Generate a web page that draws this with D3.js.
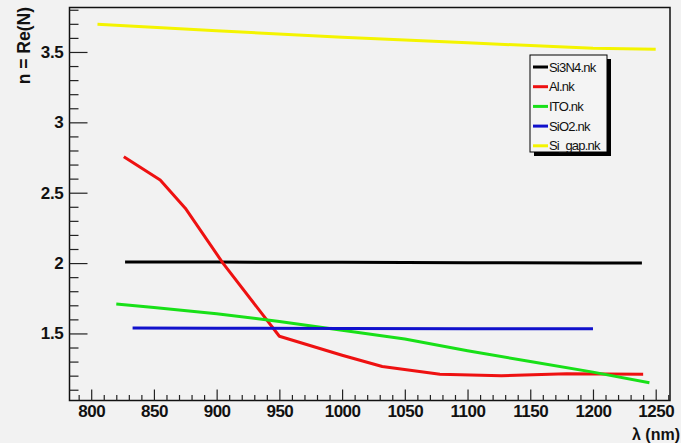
<!DOCTYPE html>
<html><head><meta charset="utf-8">
<script src="https://cdn.jsdelivr.net/npm/d3@7"></script>
<style>
html,body{margin:0;padding:0;background:#f2f2f2;}
svg{display:block;}
text{font-family:"Liberation Sans",Arial,Helvetica,sans-serif;}
</style></head>
<body>
<svg id="c" width="681" height="443"></svg>
<script>
// ---- data ----
const seriesNames = ["Si3N4.nk", "Al.nk", "ITO.nk", "SiO2.nk", "Si_gap.nk"];
const seriesColors = ["#000000", "#ee1111", "#18e018", "#1111cc", "#f4f400"];

const wlSi3N4 = [827, 900, 1000, 1100, 1200, 1239];
const nSi3N4  = [2.008, 2.007, 2.005, 2.003, 2.001, 2.001];

const wlAl = [826, 855, 875, 905, 950, 1000, 1032, 1078, 1127, 1179, 1240];
const nAl  = [2.755, 2.59, 2.39, 2.0, 1.48, 1.345, 1.265, 1.21, 1.2, 1.213, 1.21];

const wlITO = [820, 850, 900, 950, 1000, 1050, 1100, 1150, 1200, 1245];
const nITO  = [1.71, 1.684, 1.64, 1.585, 1.522, 1.46, 1.377, 1.30, 1.225, 1.15];

const wlSiO2 = [833, 900, 1000, 1100, 1200];
const nSiO2  = [1.538, 1.537, 1.535, 1.534, 1.534];

const wlSiGap = [805, 900, 1000, 1100, 1200, 1250];
const nSiGap  = [3.697, 3.65, 3.605, 3.565, 3.527, 3.519];

const xTicks = [800, 850, 900, 950, 1000, 1050, 1100, 1150, 1200, 1250];
const yTicks = [1.5, 2, 2.5, 3, 3.5];
const xTitle = "λ (nm)";
const yTitle = "n = Re(N)";

// ---- layout ----
const svg = d3.select("#c");
const L = 69.5, R = 670, T = 7.5, B = 400.5;
const x = d3.scaleLinear().domain([782.7, 1261.4]).range([L, R]);
const y = d3.scaleLinear().domain([1.0235, 3.816]).range([B, T]);

svg.append("rect").attr("width",681).attr("height",443).attr("fill","#f2f2f2");

// frame
svg.append("rect").attr("x",L).attr("y",T).attr("width",R-L).attr("height",B-T)
  .attr("fill","none").attr("stroke","#111").attr("stroke-width",1.5);

// minor ticks
const xMinor = d3.range(790, 1261, 10).filter(v => v % 50 !== 0);
const yMinor = d3.range(11, 39).map(v => v/10).filter(v => Math.abs(v*2 - Math.round(v*2)) > 1e-6);

svg.append("g").attr("transform",`translate(0,${B})`)
  .call(d3.axisBottom(x).tickValues(xMinor).tickSize(-5.5).tickFormat(""))
  .call(g => { g.select(".domain").remove(); g.selectAll("line").attr("stroke","#222").attr("stroke-width",1.2); });
svg.append("g").attr("transform",`translate(${L},0)`)
  .call(d3.axisLeft(y).tickValues(yMinor).tickSize(-9).tickFormat(""))
  .call(g => { g.select(".domain").remove(); g.selectAll("line").attr("stroke","#222").attr("stroke-width",1.2); });

// major axes
const xAxis = svg.append("g").attr("transform",`translate(0,${B})`)
  .call(d3.axisBottom(x).tickValues(xTicks).tickSize(-11).tickPadding(4).tickFormat(d3.format("d")));
xAxis.select(".domain").remove();
xAxis.selectAll("line").attr("stroke","#222").attr("stroke-width",1.2);
xAxis.selectAll("text").attr("font-size",17).attr("font-weight","bold").attr("fill","#111")
  .attr("font-family","'Liberation Sans',Arial,sans-serif").attr("letter-spacing",-0.5);

const yAxis = svg.append("g").attr("transform",`translate(${L},0)`)
  .call(d3.axisLeft(y).tickValues(yTicks).tickSize(-18).tickPadding(6).tickFormat(d => String(d)));
yAxis.select(".domain").remove();
yAxis.selectAll("line").attr("stroke","#222").attr("stroke-width",1.2);
yAxis.selectAll("text").attr("font-size",17).attr("font-weight","bold").attr("fill","#111")
  .attr("font-family","'Liberation Sans',Arial,sans-serif").attr("letter-spacing",-0.3);

// titles
svg.append("text").attr("x",680).attr("y",440).attr("text-anchor","end")
  .attr("font-size",16).attr("font-weight","bold").attr("fill","#111").text(xTitle);
svg.append("text").attr("transform","translate(30,7) rotate(-90)").attr("text-anchor","end")
  .attr("font-size",17.5).attr("font-weight","bold").attr("fill","#111").text(yTitle);

// series
const series = [
  {wl: wlSi3N4, n: nSi3N4},
  {wl: wlAl, n: nAl},
  {wl: wlITO, n: nITO},
  {wl: wlSiO2, n: nSiO2},
  {wl: wlSiGap, n: nSiGap}
];
const line = d3.line().x(d => x(d[0])).y(d => y(d[1]));
series.forEach((s, i) => {
  svg.append("path").datum(s.wl.map((w, k) => [w, s.n[k]]))
    .attr("d", line).attr("fill","none").attr("stroke", seriesColors[i])
    .attr("stroke-width", 3).attr("stroke-linejoin","round");
});

// legend
const lx = 530, ly = 55, lw = 77, lh = 97;
svg.append("rect").attr("x",lx+4).attr("y",ly+4).attr("width",lw).attr("height",lh).attr("fill","#000");
svg.append("rect").attr("x",lx).attr("y",ly).attr("width",lw).attr("height",lh)
  .attr("fill","#f4f4f4").attr("stroke","#000").attr("stroke-width",1);
seriesNames.forEach((nm, i) => {
  const yy = ly + 12 + i*19.7;
  svg.append("line").attr("x1",lx+3).attr("x2",lx+18).attr("y1",yy).attr("y2",yy)
    .attr("stroke",seriesColors[i]).attr("stroke-width",3);
  svg.append("text").attr("x",lx+19).attr("y",yy+4.5).attr("font-size",13).attr("fill","#111")
    .attr("letter-spacing",-0.8).text(nm);
});
</script>
</body></html>
